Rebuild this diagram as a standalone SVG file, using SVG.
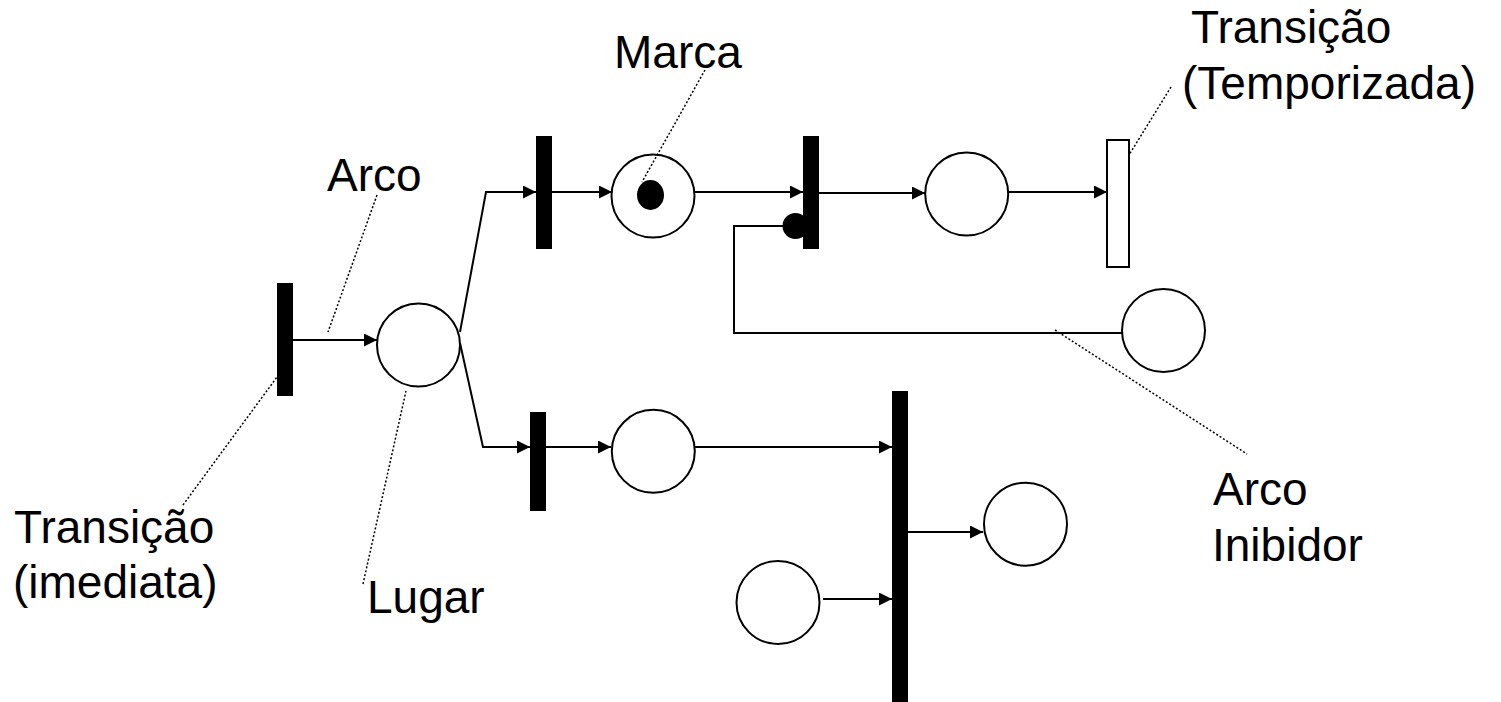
<svg xmlns="http://www.w3.org/2000/svg" width="1501" height="702" viewBox="0 0 1501 702">
<style>
.place{fill:#fff;stroke:#000;stroke-width:2}
.bar{fill:#000}
.arc{fill:none;stroke:#000;stroke-width:2}
.lead{fill:none;stroke:#000;stroke-width:1.5;stroke-dasharray:2 2}
.lbl{font-family:"Liberation Sans",Arial,sans-serif;font-size:46px;fill:#000}
</style>
<defs>
<marker id="ah" markerUnits="userSpaceOnUse" markerWidth="14" markerHeight="14" refX="13" refY="6.5" orient="auto">
<path d="M0,0 L13,6.5 L0,13 z" fill="#000"/>
</marker>
</defs>
<rect width="1501" height="702" fill="#fff"/>
<g id="connectors">
<line class="arc" x1="293" y1="340" x2="377" y2="340" marker-end="url(#ah)"/>
<polyline class="arc" points="460,332 486,192 536,192" marker-end="url(#ah)"/>
<polyline class="arc" points="460,343 483,447 530,447" marker-end="url(#ah)"/>
<line class="arc" x1="552" y1="192" x2="612" y2="192" marker-end="url(#ah)"/>
<line class="arc" x1="694" y1="192" x2="803" y2="192" marker-end="url(#ah)"/>
<line class="arc" x1="818" y1="193" x2="925" y2="193" marker-end="url(#ah)"/>
<line class="arc" x1="1008" y1="192" x2="1107" y2="192" marker-end="url(#ah)"/>
<line class="arc" x1="546" y1="447" x2="611" y2="447" marker-end="url(#ah)"/>
<line class="arc" x1="695" y1="447" x2="892" y2="447" marker-end="url(#ah)"/>
<line class="arc" x1="908" y1="532" x2="983" y2="532" marker-end="url(#ah)"/>
<line class="arc" x1="823" y1="599" x2="892" y2="599" marker-end="url(#ah)"/>
<polyline class="arc" points="1122,333 734,333 734,226 783,226"/>
<circle id="inhib-head" cx="795.5" cy="226" r="13" fill="#000"/>
</g>
<g id="t-imediata"><rect class="bar" x="277" y="283" width="16" height="113"/></g>
<g id="p-lugar"><circle class="place" cx="418.5" cy="345" r="41.5"/></g>
<g id="t-upper1"><rect class="bar" x="536" y="136" width="16" height="113"/></g>
<g id="p-marca"><circle class="place" cx="653" cy="196" r="41.5"/><ellipse cx="650.5" cy="195" rx="13.5" ry="15" fill="#000"/></g>
<g id="t-upper2"><rect class="bar" x="803" y="136" width="16" height="113"/></g>
<g id="p-upper3"><circle class="place" cx="966.7" cy="194" r="41.5"/></g>
<g id="t-temporizada"><rect x="1107" y="140" width="22" height="127" fill="#fff" stroke="#000" stroke-width="2"/></g>
<g id="p-inhib"><circle class="place" cx="1163.5" cy="330.5" r="41.5"/></g>
<g id="t-lower1"><rect class="bar" x="530" y="412" width="16" height="99"/></g>
<g id="p-lower1"><circle class="place" cx="653.3" cy="451.3" r="41.5"/></g>
<g id="t-big"><rect class="bar" x="892" y="391" width="16" height="311"/></g>
<g id="p-out"><circle class="place" cx="1025.5" cy="524.2" r="41.5"/></g>
<g id="p-in"><circle class="place" cx="778" cy="602.5" r="41.5"/></g>
<g id="leaders">
<line class="lead" x1="705" y1="70" x2="642" y2="182"/>
<line class="lead" x1="377" y1="195" x2="328" y2="332"/>
<line class="lead" x1="183" y1="505" x2="277" y2="377"/>
<line class="lead" x1="363" y1="584" x2="406" y2="391"/>
<line class="lead" x1="1171" y1="87" x2="1129" y2="155"/>
<line class="lead" x1="1055" y1="330" x2="1247" y2="454"/>
</g>
<g id="labels">
<text class="lbl" x="614" y="68">Marca</text>
<text class="lbl" x="327" y="191">Arco</text>
<text class="lbl" x="1191" y="43">Transição</text>
<text class="lbl" x="1182" y="99">(Temporizada)</text>
<text class="lbl" x="14" y="543">Transição</text>
<text class="lbl" x="13" y="598">(imediata)</text>
<text class="lbl" x="367" y="613">Lugar</text>
<text class="lbl" x="1213" y="505">Arco</text>
<text class="lbl" x="1212" y="561">Inibidor</text>
</g>
</svg>
